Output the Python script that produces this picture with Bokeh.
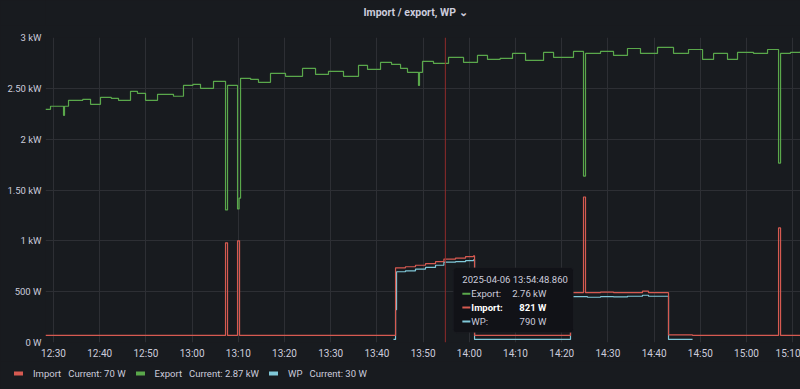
import pandas as pd
from bokeh.plotting import figure
from bokeh.layouts import column, row
from bokeh.models import (Range1d, FixedTicker, DatetimeTickFormatter, Span,
                          BoxAnnotation, Label, Legend, LegendItem)
from bokeh.embed import file_html
from bokeh.resources import INLINE

# ---------------- data ----------------
DAY = "2025-04-06"
TITLE = "Import / export, WP \u2304"

export_time = ["12:28:16", "12:29:21", "12:32:10", "12:32:23", "12:33:15", "12:36:20", "12:38:01",
               "12:40:10", "12:42:30", "12:44:04", "12:46:40", "12:48:10", "12:49:55", "12:52:31",
               "12:55:58", "12:58:08", "13:00:10", "13:01:49", "13:04:38", "13:07:14", "13:07:40",
               "13:09:50", "13:10:10", "13:10:29", "13:12:40", "13:14:22", "13:16:58", "13:20:13",
               "13:23:54", "13:26:43", "13:29:31", "13:32:46", "13:36:01", "13:37:58", "13:40:47",
               "13:43:10", "13:45:07", "13:46:37", "13:49:00", "13:49:13", "13:49:52", "13:52:15",
               "13:55:30", "13:58:45", "14:01:46", "14:03:56", "14:06:40", "14:09:21", "14:12:10",
               "14:16:04", "14:18:14", "14:22:33", "14:24:43", "14:25:09", "14:28:24", "14:31:13",
               "14:34:14", "14:37:03", "14:40:44", "14:44:12", "14:47:27", "14:50:29", "14:52:52",
               "14:55:53", "14:58:03", "15:01:31", "15:04:33", "15:06:56", "15:07:22", "15:09:30",
               "15:11:41"]
export_watts = [2294, 2324, 2235, 2324, 2382, 2392, 2343,
                2412, 2402, 2382, 2471, 2451, 2382, 2441,
                2422, 2529, 2539, 2500, 2569, 1304, 2529,
                1314, 1420, 2598, 2588, 2559, 2647, 2618,
                2696, 2637, 2667, 2618, 2725, 2686, 2755,
                2735, 2696, 2657, 2529, 2657, 2765, 2745,
                2804, 2755, 2824, 2784, 2794, 2843, 2775,
                2853, 2804, 2863, 1637, 2843, 2863, 2824,
                2892, 2843, 2902, 2843, 2882, 2784, 2843,
                2784, 2853, 2843, 2882, 1765, 2843, 2853,
                2870]

import_time = ["12:28:16", "13:07:14", "13:07:40", "13:09:50", "13:10:16", "13:44:02", "13:46:11",
               "13:48:21", "13:50:31", "13:52:41", "13:54:30", "13:57:01", "13:59:11", "14:00:55",
               "14:01:08", "14:21:54", "14:24:43", "14:25:09", "14:28:24", "14:31:13", "14:37:29",
               "14:38:47", "14:43:07", "14:48:19", "15:06:56", "15:07:22", "15:11:41"]
import_watts = [70, 980, 70, 1000, 70, 735, 745,
                760, 775, 795, 821, 830, 845, 853,
                70, 490, 1431, 490, 495, 490, 505,
                490, 75, 70, 1127, 70, 70]

wp_time = ["13:43:35", "13:44:02", "13:44:15", "13:46:11", "13:48:21", "13:50:31", "13:52:41",
           "13:54:30", "13:57:01", "13:59:11", "14:00:55", "14:01:08", "14:21:54", "14:25:35",
           "14:28:24", "14:31:13", "14:34:14", "14:37:29", "14:38:47", "14:43:07", "14:48:19"]
wp_watts = [30, 323, 696, 705, 722, 738, 760,
            790, 795, 805, 813, 30, 451, 445,
            451, 448, 455, 465, 455, 30, 30]

cursor_time = "13:54:48.860"
tooltip_rows = [("Export", "2.76 kW"), ("Import", "821 W"), ("WP", "790 W")]

y_ticks = [0, 500, 1000, 1500, 2000, 2500, 3000]
y_tick_labels = ["0 W", "500 W", "1 kW", "1.50 kW", "2 kW", "2.50 kW", "3 kW"]
x_tick_times = ["12:30", "12:40", "12:50", "13:00", "13:10", "13:20", "13:30", "13:40",
                "13:50", "14:00", "14:10", "14:20", "14:30", "14:40", "14:50", "15:00", "15:10"]
x_start_time = "12:28:16"
x_end_time = "15:11:41"

# ---------------- styling ----------------
BG = "#181b1f"
TXT = "#ccccdc"
GRID = "#2d2f34"
C_IMPORT = "#D65A51"
C_EXPORT = "#5AA84B"
C_WP = "#80C8D8"
FONT = "Roboto"

W = 800
H_TITLE, H_MAIN, H_LEG = 25, 336, 28
F_LEFT, F_TOP, F_BOTTOM = 45, 37, 343     # frame edges in page pixels


def ms(t):
    return pd.Timestamp(f"{DAY} {t}").value / 1e6


def fmt_w(w):
    return f"{w / 1000:.2f} kW" if w >= 1000 else f"{w:.0f} W"


def strip(height):
    f = figure(width=W, height=height, output_backend="svg", toolbar_location=None,
               x_range=Range1d(0, 1), y_range=Range1d(0, 1),
               x_axis_location=None, y_axis_location=None, min_border=0,
               background_fill_color=BG, border_fill_color=BG, outline_line_color=None)
    f.grid.visible = False
    f.title.visible = False
    return f


x0, x1 = ms(x_start_time), ms(x_end_time)
Y0, Y1 = 0, 3000

# ---- title strip (its frame lines up with the chart frame: page x 45..800) ----
tf = strip(H_TITLE)
tf.x_range = Range1d(F_LEFT, W)
tf.y_range = Range1d(0, H_TITLE)
tf.add_layout(Label(x=415, y=H_TITLE - 12, text=TITLE, text_color=TXT, text_font=FONT,
                    text_font_size="10.5px", text_font_style="bold",
                    text_align="center", text_baseline="middle"))

# ---- main chart ----
p = figure(width=W, height=H_MAIN, x_axis_type="datetime",
           output_backend="svg", toolbar_location=None,
           x_range=Range1d(x0, x1), y_range=Range1d(Y0, Y1),
           min_border_left=F_LEFT, min_border_right=0, min_border_top=F_TOP - H_TITLE,
           min_border_bottom=H_TITLE + H_MAIN - F_BOTTOM,
           background_fill_color=BG, border_fill_color=BG, outline_line_color=None)
p.title.visible = False

xt = FixedTicker(ticks=[ms(t) for t in x_tick_times])
yt = FixedTicker(ticks=y_ticks)
p.xaxis.ticker = xt
p.yaxis.ticker = yt
p.xgrid.ticker = xt
p.ygrid.ticker = yt
fmt = "%H:%M"
p.xaxis.formatter = DatetimeTickFormatter(minutes=fmt, hourmin=fmt, hours=fmt, minsec=fmt,
                                          seconds=fmt, days=fmt)
p.yaxis.major_label_overrides = {t: l for t, l in zip(y_ticks, y_tick_labels)}
for ax in (p.xaxis, p.yaxis):
    ax.axis_line_color = None
    ax.major_tick_line_color = None
    ax.minor_tick_line_color = None
    ax.major_tick_out = 0
    ax.major_tick_in = 0
    ax.minor_tick_out = 0
    ax.minor_tick_in = 0
    ax.major_label_text_color = TXT
    ax.major_label_text_font = FONT
p.xaxis.major_label_text_font_size = "10px"
p.yaxis.major_label_text_font_size = "9.5px"
p.xaxis.major_label_standoff = 5
p.yaxis.major_label_standoff = 4
p.grid.grid_line_color = GRID
p.grid.grid_line_width = 1

ex_x = [ms(t) for t in export_time]
im_x = [ms(t) for t in import_time]
wp_x = [ms(t) for t in wp_time]

p.step(ex_x, export_watts, mode="after", line_color=C_EXPORT, line_width=1.2)
p.step(wp_x, wp_watts, mode="after", line_color=C_WP, line_width=1.2)
p.step(im_x, import_watts, mode="after", line_color=C_IMPORT, line_width=1.2)

# cursor
cx = ms(cursor_time)
p.add_layout(Span(location=cx, dimension="height", line_color="#8f2b2b", line_width=1))

# ---- helpers: page pixel -> data (for annotation placement) ----
FRAME_W, FRAME_H = W - F_LEFT, F_BOTTOM - F_TOP
ppx = (x1 - x0) / FRAME_W       # ms per pixel
ppy = (Y1 - Y0) / FRAME_H       # W per pixel


def py(page_y):
    return (F_BOTTOM - page_y) * ppy


# ---- tooltip (positions via pixel offsets from the cursor) ----
p.add_layout(BoxAnnotation(left=cx + 8 * ppx, right=cx + 128 * ppx, top=py(268), bottom=py(333),
                           fill_color="#111217", fill_alpha=1.0,
                           line_color="#24262b", line_width=1, border_radius=3, level="overlay"))
stamp = pd.Timestamp(f"{DAY} {cursor_time}")
p.add_layout(Label(x=cx + 17 * ppx, y=py(280),
                   text=stamp.strftime("%Y-%m-%d %H:%M:%S.") + f"{stamp.microsecond // 1000:03d}",
                   text_color=TXT, text_font=FONT, text_font_size="9.5px",
                   text_baseline="middle", level="overlay"))
row_colors = {"Export": C_EXPORT, "Import": C_IMPORT, "WP": C_WP}
for i, (name, val) in enumerate(tooltip_rows):
    yy = 294 + 14 * i
    bold = name == "Import"
    p.add_layout(BoxAnnotation(left=cx + 17 * ppx, right=cx + 25 * ppx, top=py(yy - 1), bottom=py(yy + 1),
                               fill_color=row_colors[name], fill_alpha=1.0, line_color=None,
                               level="overlay"))
    p.add_layout(Label(x=cx + 26 * ppx, y=py(yy), text=name + ":",
                       text_color="#ffffff" if bold else TXT, text_font=FONT,
                       text_font_size="9.5px", text_font_style="bold" if bold else "normal",
                       text_baseline="middle", level="overlay"))
    p.add_layout(Label(x=cx + 101 * ppx, y=py(yy), text=val,
                       text_color="#ffffff" if bold else TXT, text_font=FONT,
                       text_font_size="9.5px", text_font_style="bold" if bold else "normal",
                       text_align="right", text_baseline="middle", level="overlay"))

# ---- legend strip (wrapped in a row so its frame spans the full width) ----
lg = strip(H_LEG)
items = []
for name, col, xs, vals in (("Import", C_IMPORT, im_x, import_watts),
                            ("Export", C_EXPORT, ex_x, export_watts),
                            ("WP", C_WP, wp_x, wp_watts)):
    # series lies outside this strip's 0..1 range, so only its legend swatch shows
    r = lg.step(xs, vals, mode="after", line_color=col, line_width=4, line_cap="round")
    items.append(LegendItem(label=f"{name}\u00a0\u00a0\u00a0Current: {fmt_w(vals[-1])}", renderers=[r]))
legend = Legend(items=items, orientation="horizontal", location=(14, 9),
                glyph_width=9, glyph_height=14, label_standoff=10, spacing=10,
                padding=3, margin=0, background_fill_alpha=0, border_line_color=None,
                label_text_color=TXT, label_text_font=FONT, label_text_font_size="9.5px",
                label_height=14)
lg.add_layout(legend)

layout = column(tf, p, row(lg, spacing=0), spacing=0)
html = file_html(layout, INLINE)
html = html.replace("</head>", "<style>html,body{background:#181b1f;}</style></head>", 1)
open("out.html", "w").write(html)
